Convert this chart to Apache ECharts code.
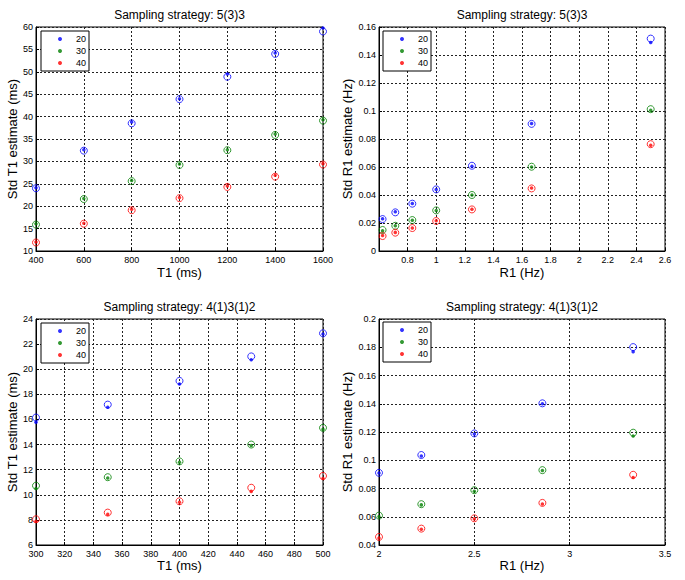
<!DOCTYPE html>
<html>
<head>
<meta charset="utf-8">
<script src="https://cdn.jsdelivr.net/npm/echarts@6/dist/echarts.min.js"></script>
<style>html,body{margin:0;padding:0;background:#fff}#c{width:685px;height:580px}</style>
</head>
<body>
<div id="c"></div>
<script>
// ---- Data ----
const legendNames = ['20', '30', '40'];
const titles = ['Sampling strategy: 5(3)3', 'Sampling strategy: 5(3)3', 'Sampling strategy: 4(1)3(1)2', 'Sampling strategy: 4(1)3(1)2'];
const xNames = ['T1 (ms)', 'R1 (Hz)', 'T1 (ms)', 'R1 (Hz)'];
const yNames = ['Std T1 estimate (ms)', 'Std R1 estimate (Hz)', 'Std T1 estimate (ms)', 'Std R1 estimate (Hz)'];

// Panel 1: T1, strategy 5(3)3
const t1TopX = [400, 600, 800, 1000, 1200, 1400, 1600];
const t1TopDot20 = [24.1, 32.6, 38.8, 44.0, 49.5, 54.2, 59.8];
const t1TopCirc20 = [24.0, 32.4, 38.5, 43.9, 48.9, 54.0, 59.0];
const t1TopDot30 = [16.1, 21.7, 25.75, 29.4, 32.6, 36.1, 39.3];
const t1TopCirc30 = [15.9, 21.6, 25.6, 29.2, 32.5, 35.9, 39.1];
const t1TopDot40 = [12.0, 16.2, 19.3, 21.95, 24.5, 26.9, 29.5];
const t1TopCirc40 = [11.9, 16.1, 19.1, 21.8, 24.3, 26.6, 29.3];

// Panel 2: R1, strategy 5(3)3
const r1TopX = [0.625, 0.714, 0.833, 1.0, 1.25, 1.667, 2.5];
const r1TopDot20 = [0.023, 0.028, 0.034, 0.044, 0.0605, 0.091, 0.1489];
const r1TopCirc20 = [0.0228, 0.0276, 0.0338, 0.044, 0.0609, 0.0908, 0.1517];
const r1TopDot30 = [0.0145, 0.018, 0.022, 0.029, 0.040, 0.060, 0.1006];
const r1TopCirc30 = [0.015, 0.018, 0.0221, 0.029, 0.040, 0.0602, 0.1013];
const r1TopDot40 = [0.011, 0.0133, 0.0165, 0.0216, 0.0298, 0.045, 0.0756];
const r1TopCirc40 = [0.0107, 0.0131, 0.0164, 0.0214, 0.0297, 0.0447, 0.0763];

// Panel 3: T1, strategy 4(1)3(1)2
const t1BotX = [300, 350, 400, 450, 500];
const t1BotDot20 = [15.77, 16.97, 18.83, 20.75, 22.8];
const t1BotCirc20 = [16.15, 17.18, 19.07, 21.02, 22.86];
const t1BotDot30 = [10.5, 11.33, 12.59, 13.92, 15.22];
const t1BotCirc30 = [10.72, 11.4, 12.66, 14.0, 15.33];
const t1BotDot40 = [7.9, 8.45, 9.4, 10.27, 11.3];
const t1BotCirc40 = [8.05, 8.58, 9.48, 10.56, 11.5];

// Panel 4: R1, strategy 4(1)3(1)2
const r1BotX = [2, 2.222, 2.5, 2.857, 3.333];
const r1BotDot20 = [0.091, 0.103, 0.1186, 0.140, 0.1768];
const r1BotCirc20 = [0.0911, 0.1037, 0.119, 0.1403, 0.1801];
const r1BotDot30 = [0.0601, 0.0684, 0.0781, 0.0928, 0.1172];
const r1BotCirc30 = [0.0608, 0.0689, 0.0788, 0.093, 0.1195];
const r1BotDot40 = [0.045, 0.0511, 0.0585, 0.0691, 0.0878];
const r1BotCirc40 = [0.0457, 0.0516, 0.0589, 0.0698, 0.0897];

// Axis ranges
const xRanges = [[400, 1600, 200], [0.6, 2.6, 0.2], [300, 500, 20], [2, 3.5, 0.5]];
const yRanges = [[10, 60, 5], [0, 0.16, 0.02], [6, 24, 2], [0.04, 0.2, 0.02]];

// ---- Build ----
const colors = ['#0000ff', '#008000', '#ff0000'];
const FONT = '"Liberation Sans", Arial, sans-serif';
const panels = [
  { x: t1TopX, dots: [t1TopDot20, t1TopDot30, t1TopDot40], circs: [t1TopCirc20, t1TopCirc30, t1TopCirc40] },
  { x: r1TopX, dots: [r1TopDot20, r1TopDot30, r1TopDot40], circs: [r1TopCirc20, r1TopCirc30, r1TopCirc40] },
  { x: t1BotX, dots: [t1BotDot20, t1BotDot30, t1BotDot40], circs: [t1BotCirc20, t1BotCirc30, t1BotCirc40] },
  { x: r1BotX, dots: [r1BotDot20, r1BotDot30, r1BotDot40], circs: [r1BotCirc20, r1BotCirc30, r1BotCirc40] }
];
const gridPos = [
  { left: 36, top: 27, width: 287, height: 224 },
  { left: 379, top: 27, width: 286, height: 224 },
  { left: 36, top: 319, width: 287, height: 226 },
  { left: 379, top: 319, width: 286, height: 226 }
];
const legendPos = [[41, 31], [383, 31], [41, 323], [383, 322]];
const yNameGap = [14, 25, 14, 25];

const zip = (xs, ys) => xs.map((v, i) => [v, ys[i]]);
const fmt = v => String(Math.round(v * 1000) / 1000);

const grid = [], xAxis = [], yAxis = [], series = [], title = [], legend = [];
gridPos.forEach((g, i) => {
  grid.push(Object.assign({ show: true, borderColor: '#000', borderWidth: 1, backgroundColor: '#fff' }, g));
  title.push({
    text: titles[i], left: g.left + g.width / 2, top: g.top - 12, padding: 0,
    textAlign: 'center', textVerticalAlign: 'middle',
    textStyle: { fontFamily: FONT, fontSize: 12, fontWeight: 'normal', color: '#000' }
  });
  const xr = xRanges[i], yr = yRanges[i];
  xAxis.push({
    type: 'value', gridIndex: i, min: xr[0], max: xr[1], interval: xr[2],
    name: xNames[i], nameLocation: 'middle', nameGap: i < 2 ? 15 : 14,
    nameTextStyle: { fontFamily: FONT, fontSize: 13, color: '#000' },
    axisLine: { show: true, onZero: false, lineStyle: { color: '#000', width: 1 } },
    axisTick: { show: true, inside: true, length: 3, lineStyle: { color: '#000' } },
    axisLabel: { fontFamily: FONT, fontSize: 9, lineHeight: 9, color: '#000', margin: 4, showMinLabel: i !== 1, formatter: fmt },
    splitLine: { show: true, lineStyle: { color: '#222', type: [2, 2], width: 1 } }
  });
  yAxis.push({
    type: 'value', gridIndex: i, min: yr[0], max: yr[1], interval: yr[2],
    name: yNames[i], nameLocation: 'middle', nameGap: yNameGap[i],
    nameTextStyle: { fontFamily: FONT, fontSize: 13, color: '#000' },
    axisLine: { show: true, onZero: false, lineStyle: { color: '#000', width: 1 } },
    axisTick: { show: true, inside: true, length: 3, lineStyle: { color: '#000' } },
    axisLabel: { fontFamily: FONT, fontSize: 9, lineHeight: 9, color: '#000', margin: 3, formatter: fmt },
    splitLine: { show: true, lineStyle: { color: '#222', type: [2, 2], width: 1 } }
  });
  const p = panels[i];
  legendNames.forEach((nm, k) => {
    series.push({
      type: 'scatter', name: nm + ' est', xAxisIndex: i, yAxisIndex: i,
      data: zip(p.x, p.circs[k]), symbol: 'circle', symbolSize: 7, z: 2,
      itemStyle: { color: 'rgba(255,255,255,0)', borderColor: colors[k], borderWidth: 1 },
      emphasis: { disabled: true }, silent: true
    });
  });
  legendNames.forEach((nm, k) => {
    series.push({
      type: 'scatter', name: nm, xAxisIndex: i, yAxisIndex: i,
      data: zip(p.x, p.dots[k]), symbol: 'circle', symbolSize: 3.5, z: 3,
      itemStyle: { color: colors[k] },
      emphasis: { disabled: true }, silent: true
    });
  });
  legend.push({
    data: legendNames, orient: 'vertical', left: legendPos[i][0], top: legendPos[i][1],
    selectedMode: false, icon: 'circle', itemWidth: 4, itemHeight: 4, itemGap: 0,
    borderColor: '#000', borderWidth: 1, borderRadius: 0, backgroundColor: '#fff',
    padding: [2, 3, 2, 17],
    textStyle: { fontFamily: FONT, fontSize: 9, color: '#000', lineHeight: 12, padding: [0, 0, 0, 9] }
  });
});

const chart = echarts.init(document.getElementById('c'), null, { renderer: 'svg' });
chart.setOption({
  backgroundColor: '#fff', animation: false,
  title, grid, xAxis, yAxis, series, legend
});
</script>
</body>
</html>
